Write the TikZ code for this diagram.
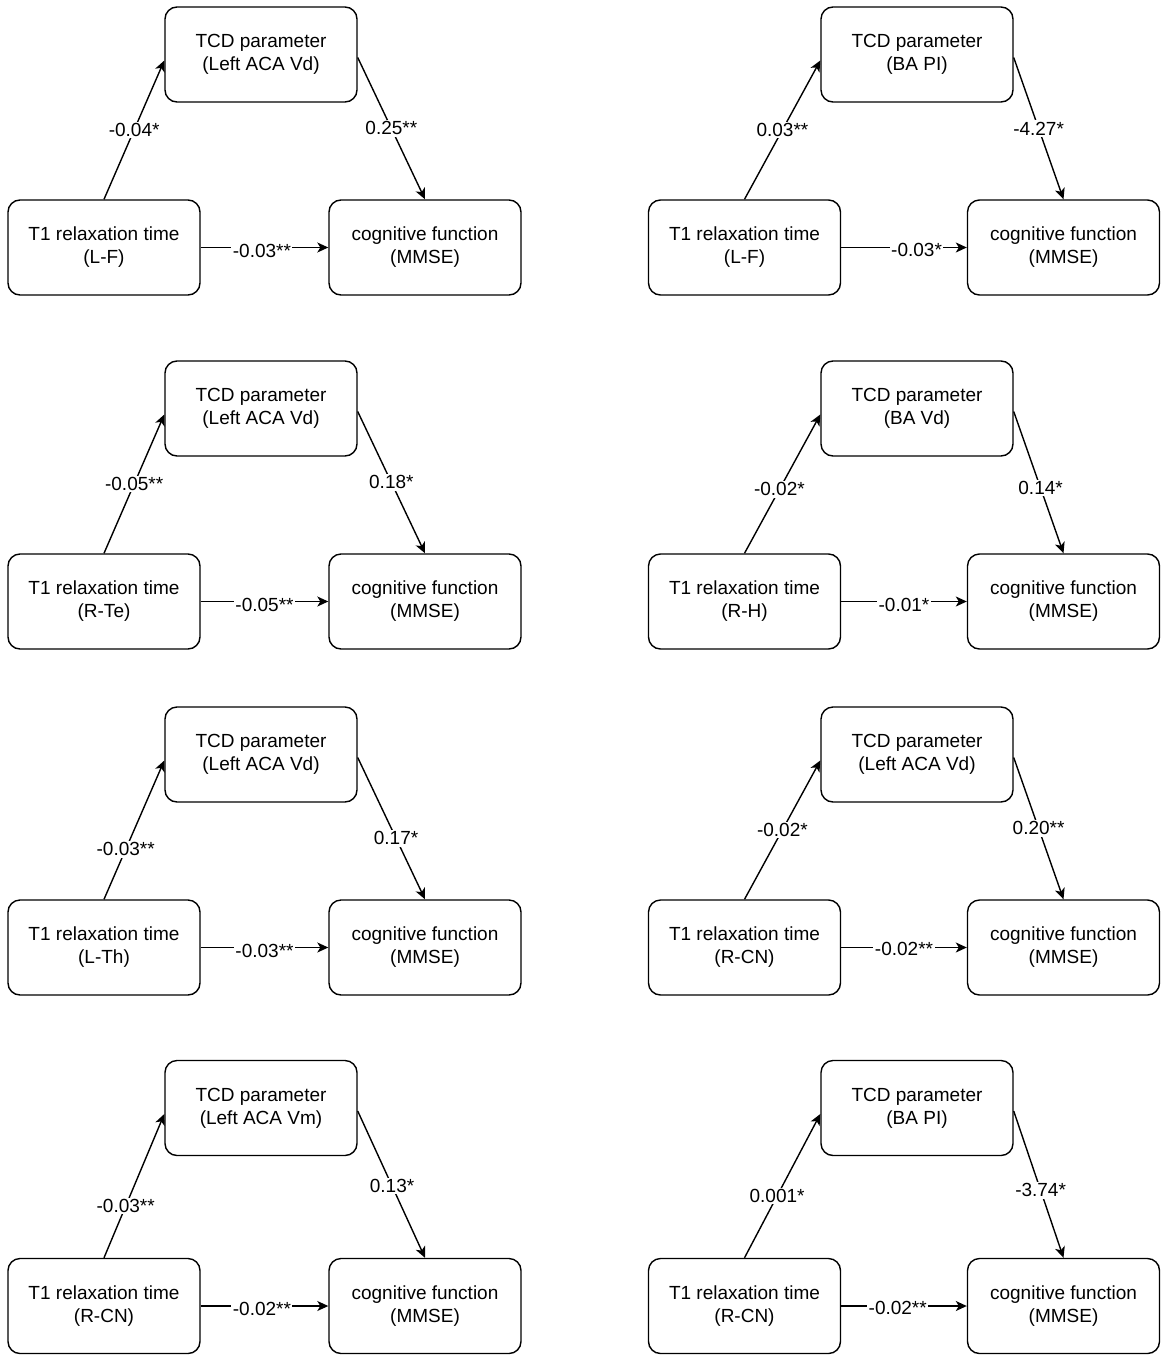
\documentclass[tikz,border=0pt]{standalone}
\usepackage{fontspec}
\setmainfont{Liberation Sans}
\usetikzlibrary{arrows.meta,calc}
\tikzset{
  box/.style={draw=black, line width=1.4pt, rounded corners=12pt, minimum width=192pt, minimum height=95pt, align=center, font=\fontsize{19}{23}\selectfont, inner sep=0pt},
  conn/.style={line width=1.4pt, -{Stealth[length=11pt,width=10pt,inset=3pt]}},
  lbl/.style={fill=white, inner sep=1.5pt, font=\fontsize{19}{23}\selectfont}
}
\begin{document}
\begin{tikzpicture}[x=1pt,y=-1pt]
\useasboundingbox (0,0) rectangle (1170,1357);
% ---------- Row 1 left
\node[box] (t1a) at (104,247.5) {T1 relaxation time\\(L-F)};
\node[box] (tcda) at (261,54.5) {TCD parameter\\(Left ACA Vd)};
\node[box] (coga) at (425,247.5) {cognitive function\\(MMSE)};
\draw[conn] (t1a.north) -- node[lbl,pos=0.5] {-0.04*} ($(tcda.west)+(0,6)$);
\draw[conn] ($(tcda.east)+(0,3)$) -- node[lbl,pos=0.5] {0.25**} (coga.north);
\draw[conn] (t1a.east) -- node[lbl,pos=0.48,yshift=-3pt] {-0.03**} (coga.west);
% ---------- Row 1 right
\node[box] (t1b) at (744.5,247.5) {T1 relaxation time\\(L-F)};
\node[box] (tcdb) at (917,54.5) {TCD parameter\\(BA PI)};
\node[box] (cogb) at (1063.5,247.5) {cognitive function\\(MMSE)};
\draw[conn] (t1b.north) -- node[lbl,pos=0.5] {0.03**} ($(tcdb.west)+(0,6)$);
\draw[conn] ($(tcdb.east)+(0,3)$) -- node[lbl,pos=0.5] {-4.27*} (cogb.north);
\draw[conn] (t1b.east) -- node[lbl,pos=0.6,yshift=-2pt] {-0.03*} (cogb.west);
% ---------- Row 2 left
\node[box] (t1c) at (104,601.5) {T1 relaxation time\\(R-Te)};
\node[box] (tcdc) at (261,408.5) {TCD parameter\\(Left ACA Vd)};
\node[box] (cogc) at (425,601.5) {cognitive function\\(MMSE)};
\draw[conn] (t1c.north) -- node[lbl,pos=0.5] {-0.05**} ($(tcdc.west)+(0,6)$);
\draw[conn] ($(tcdc.east)+(0,3)$) -- node[lbl,pos=0.5] {0.18*} (cogc.north);
\draw[conn] (t1c.east) -- node[lbl,pos=0.5,yshift=-3pt] {-0.05**} (cogc.west);
% ---------- Row 2 right
\node[box] (t1d) at (744.5,601.5) {T1 relaxation time\\(R-H)};
\node[box] (tcdd) at (917,408.5) {TCD parameter\\(BA Vd)};
\node[box] (cogd) at (1063.5,601.5) {cognitive function\\(MMSE)};
\draw[conn] (t1d.north) -- node[lbl,pos=0.46] {-0.02*} ($(tcdd.west)+(0,6)$);
\draw[conn] ($(tcdd.east)+(0,3)$) -- node[lbl,pos=0.54] {0.14*} (cogd.north);
\draw[conn] (t1d.east) -- node[lbl,pos=0.5,yshift=-3pt] {-0.01*} (cogd.west);
% ---------- Row 3 left
\node[box] (t1e) at (104,947.5) {T1 relaxation time\\(L-Th)};
\node[box] (tcde) at (261,754.5) {TCD parameter\\(Left ACA Vd)};
\node[box] (coge) at (425,947.5) {cognitive function\\(MMSE)};
\draw[conn] (t1e.north) -- node[lbl,pos=0.36] {-0.03**} ($(tcde.west)+(0,6)$);
\draw[conn] ($(tcde.east)+(0,3)$) -- node[lbl,pos=0.57] {0.17*} (coge.north);
\draw[conn] (t1e.east) -- node[lbl,pos=0.5,yshift=-3pt] {-0.03**} (coge.west);
% ---------- Row 3 right
\node[box] (t1f) at (744.5,947.5) {T1 relaxation time\\(R-CN)};
\node[box] (tcdf) at (917,754.5) {TCD parameter\\(Left ACA Vd)};
\node[box] (cogf) at (1063.5,947.5) {cognitive function\\(MMSE)};
\draw[conn] (t1f.north) -- node[lbl,pos=0.5] {-0.02*} ($(tcdf.west)+(0,6)$);
\draw[conn] ($(tcdf.east)+(0,3)$) -- node[lbl,pos=0.5] {0.20**} (cogf.north);
\draw[conn] (t1f.east) -- node[lbl,pos=0.5,yshift=-1pt] {-0.02**} (cogf.west);
% ---------- Row 4 left
\node[box] (t1g) at (104,1306) {T1 relaxation time\\(R-CN)};
\node[box] (tcdg) at (261,1108) {TCD parameter\\(Left ACA Vm)};
\node[box] (cogg) at (425,1306) {cognitive function\\(MMSE)};
\draw[conn] (t1g.north) -- node[lbl,pos=0.36] {-0.03**} ($(tcdg.west)+(0,6)$);
\draw[conn] ($(tcdg.east)+(0,3)$) -- node[lbl,pos=0.51] {0.13*} (cogg.north);
\draw[conn] (t1g.east) -- node[lbl,pos=0.48,yshift=-3pt] {-0.02**} (cogg.west);
% ---------- Row 4 right
\node[box] (t1h) at (744.5,1306) {T1 relaxation time\\(R-CN)};
\node[box] (tcdh) at (917,1108) {TCD parameter\\(BA PI)};
\node[box] (cogh) at (1063.5,1306) {cognitive function\\(MMSE)};
\draw[conn] (t1h.north) -- node[lbl,pos=0.43] {0.001*} ($(tcdh.west)+(0,6)$);
\draw[conn] ($(tcdh.east)+(0,3)$) -- node[lbl,pos=0.54] {-3.74*} (cogh.north);
\draw[conn] (t1h.east) -- node[lbl,pos=0.45,yshift=-2pt] {-0.02**} (cogh.west);
\end{tikzpicture}
\end{document}
